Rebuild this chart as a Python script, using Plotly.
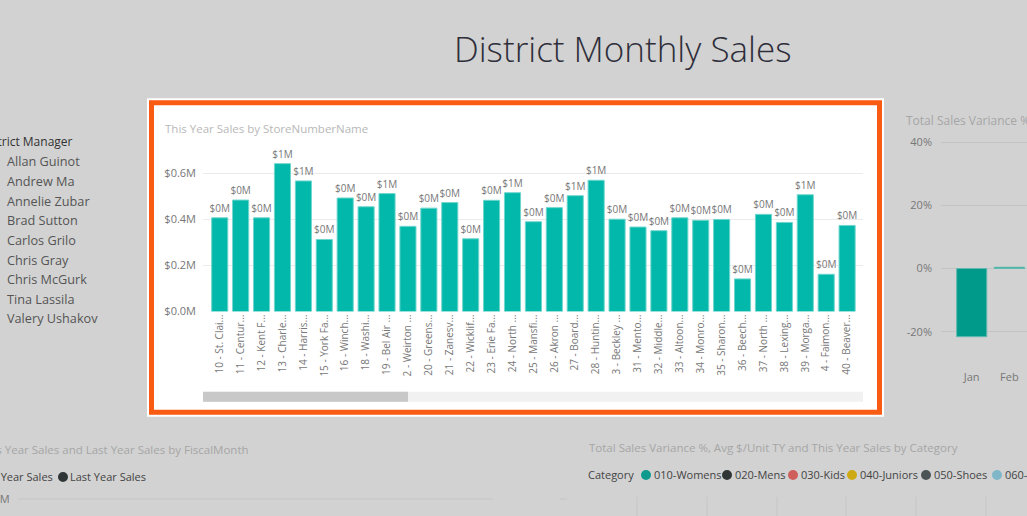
import plotly.graph_objects as go

W, H = 1027, 524   # viewport is captured a bit taller and scaled to 516; fractions stay in 516-px reference units
REF_H = 516

# ---------------- data ----------------
stores = ["10 - St. Clai...", "11 - Centur...", "12 - Kent F...", "13 - Charle...", "14 - Harris...",
          "15 - York Fa...", "16 - Winch...", "18 - Washi...", "19 - Bel Air ...", "2 - Weirton ...",
          "20 - Greens...", "21 - Zanesv...", "22 - Wicklif...", "23 - Erie Fa...", "24 - North ...",
          "25 - Mansfi...", "26 - Akron ...", "27 - Board...", "28 - Huntin...", "3 - Beckley ...",
          "31 - Mento...", "32 - Middle...", "33 - Altoon...", "34 - Monro...", "35 - Sharon...",
          "36 - Beech...", "37 - North ...", "38 - Lexing...", "39 - Morga...", "4 - Faimon...",
          "40 - Beaver..."]
sales_m = [0.407, 0.484, 0.407, 0.642, 0.567, 0.313, 0.493, 0.455, 0.512, 0.370,
           0.449, 0.473, 0.316, 0.483, 0.516, 0.390, 0.451, 0.503, 0.570, 0.401,
           0.367, 0.351, 0.407, 0.396, 0.400, 0.142, 0.422, 0.387, 0.507, 0.162,
           0.374]
y_ticks = [0, 0.2, 0.4, 0.6]
y_tick_labels = ["$0.0M", "$0.2M", "$0.4M", "$0.6M"]

months = ["Jan", "Feb"]
variance_pct = [-21.6, 0.4]
var_ticks = [-20, 0, 20, 40]
var_tick_labels = ["-20%", "0%", "20%", "40%"]

managers = ["Allan Guinot", "Andrew Ma", "Annelie Zubar", "Brad Sutton", "Carlos Grilo",
            "Chris Gray", "Chris McGurk", "Tina Lassila", "Valery Ushakov"]
categories = ["010-Womens", "020-Mens", "030-Kids", "040-Juniors", "050-Shoes", "060-Intimate"]
category_colors = ["#0f9a8e", "#2f3537", "#cf5f5b", "#cdaa14", "#4c5355", "#7fb7c9"]
fiscal_series = ["This Year Sales", "Last Year Sales"]
fiscal_colors = ["#0f9a8e", "#2f3537"]


def px(x):
    return x / W


def py(y):
    return 1 - y / REF_H


FONT = "Open Sans"
fig = go.Figure()

# main bar chart
fig.add_trace(go.Bar(
    x=stores, y=sales_m, xaxis="x", yaxis="y",
    marker=dict(color="#01B8AA", line=dict(color="#6fd6cd", width=1)),
    texttemplate="$%{y:.0f}M", textposition="outside", cliponaxis=False, constraintext="none",
    textfont=dict(family=FONT, size=10, color="#777777"),
    hoverinfo="skip", showlegend=False,
))

# variance chart (dimmed, right)
fig.add_trace(go.Bar(
    x=months, y=variance_pct, xaxis="x2", yaxis="y2",
    marker=dict(color="#009a8b", line=dict(color="#5fb9b0", width=1)),
    width=0.8, hoverinfo="skip", showlegend=False,
))

shapes = []
# focus frame
shapes.append(dict(type="rect", xref="paper", yref="paper", x0=px(147), x1=px(884), y0=py(416), y1=py(98),
                   fillcolor="#ffffff", line=dict(width=0), layer="below"))
shapes.append(dict(type="rect", xref="paper", yref="paper", x0=px(151.5), x1=px(879.5), y0=py(411.5), y1=py(102.5),
                   fillcolor="#ffffff", line=dict(color="#F95B13", width=5), layer="below"))
# scrollbar
shapes.append(dict(type="rect", xref="paper", yref="paper", x0=px(203), x1=px(863), y0=py(401), y1=py(391),
                   fillcolor="#f1f1f1", line=dict(width=0), layer="below"))
shapes.append(dict(type="rect", xref="paper", yref="paper", x0=px(203), x1=px(408), y0=py(401), y1=py(391),
                   fillcolor="#c8c8c8", line=dict(width=0), layer="below"))
# bottom-left chart gridline
shapes.append(dict(type="line", xref="paper", yref="paper", x0=px(18), x1=px(493), y0=py(498), y1=py(498),
                   line=dict(color="#c6c6c6", width=1), layer="below"))
# bottom-right chart vertical gridlines
for gx in [637, 707, 777, 846, 916, 986]:
    shapes.append(dict(type="line", xref="paper", yref="paper", x0=px(gx), x1=px(gx), y0=py(496), y1=py(516),
                       line=dict(color="#c6c6c6", width=1), layer="below"))
shapes.append(dict(type="line", xref="paper", yref="paper", x0=px(560), x1=px(567), y0=py(498), y1=py(498),
                   line=dict(color="#c6c6c6", width=1), layer="below"))


def dot(cx, cy, color, r=5):
    return dict(type="circle", xref="paper", yref="paper", x0=px(cx - r), x1=px(cx + r),
                y0=py(cy + r), y1=py(cy - r), fillcolor=color, line=dict(width=0), layer="above")


ann = []


def text(t, x, y, size, color, anchor="left", weight=None):
    f = dict(family=FONT, size=size, color=color)
    if weight:
        f["weight"] = weight
    ann.append(dict(text=t, x=px(x), y=py(y), xref="paper", yref="paper", showarrow=False,
                    xanchor=anchor, yanchor="middle", font=f))


text("District Monthly Sales", 623, 48, 35, "#2e2e3a", "center", 300)
text("This Year Sales by StoreNumberName", 163, 128, 11.5, "#b8b8b8")
# slicer
text("District Manager", 75, 141, 12, "#333333", "right")
for i, name in enumerate(managers):
    text(name, 5, 161 + i * 19.6, 12.7, "#555555")
# right chart title
text("Total Sales Variance %", 904, 120, 12, "#a6a6a6")
# bottom-left chart
text("This Year Sales and Last Year Sales by FiscalMonth", 251, 449, 11.5, "#a6a6a6", "right")
shapes.append(dot(63, 476, fiscal_colors[1]))
text(fiscal_series[0], 55, 476, 11, "#444444", "right")
text(fiscal_series[1], 68, 476, 11, "#444444", "left")
text("$0.0M", 12, 498, 11, "#777777", "right")
# bottom-right chart
text("Total Sales Variance %, Avg $/Unit TY and This Year Sales by Category", 587, 447, 11.5, "#a6a6a6")
text("Category", 586, 474, 11, "#444444")
dot_x = [646, 727, 793, 852, 926, 997]
txt_x = [652, 733, 799, 858, 932, 1003]
for c, col, dx, tx in zip(categories, category_colors, dot_x, txt_x):
    shapes.append(dot(dx, 474, col))
    text(c, tx, 474, 11, "#444444")

fig.update_layout(
    width=W, height=H, margin=dict(l=0, r=0, t=0, b=0),
    paper_bgcolor="#d2d2d2", plot_bgcolor="rgba(0,0,0,0)",
    bargap=0.23, showlegend=False,
    font=dict(family=FONT, color="#777777"),
    shapes=shapes, annotations=ann,
    xaxis=dict(domain=[px(203), px(863)], range=[-0.8, 30.76], type="category",
               tickangle=-90, showgrid=False, showline=False, zeroline=False, ticks="",
               tickfont=dict(family=FONT, size=10, color="#777777"), fixedrange=True),
    yaxis=dict(domain=[py(311), py(311 - 0.72 * 230)], range=[0, 0.72], tickmode="array",
               tickvals=y_ticks, ticktext=y_tick_labels, showgrid=True, gridcolor="#ebebeb",
               zeroline=False, showline=False, ticks="", ticklabelstandoff=6,
               tickfont=dict(family=FONT, size=11, color="#777777"), fixedrange=True),
    xaxis2=dict(domain=[px(941), 1.0], range=[-0.816, 1.47], type="category", anchor="y2",
                showgrid=False, showline=False, zeroline=False, ticks="", ticklabelstandoff=6,
                tickfont=dict(family=FONT, size=11, color="#777777"), fixedrange=True),
    yaxis2=dict(domain=[py(268 + 30 * 3.15), py(268 - 45 * 3.15)], range=[-30, 45], anchor="x2",
                tickmode="array", tickvals=var_ticks, ticktext=var_tick_labels,
                showgrid=True, gridcolor="#c4c4c4",
                zeroline=False, showline=False, ticks="", ticklabelstandoff=8,
                tickfont=dict(family=FONT, size=11, color="#777777"), fixedrange=True),
)

fig.write_html("out.html", config={"displayModeBar": False},
               post_script="document.body.style.margin='0';document.body.style.overflow='hidden';")
